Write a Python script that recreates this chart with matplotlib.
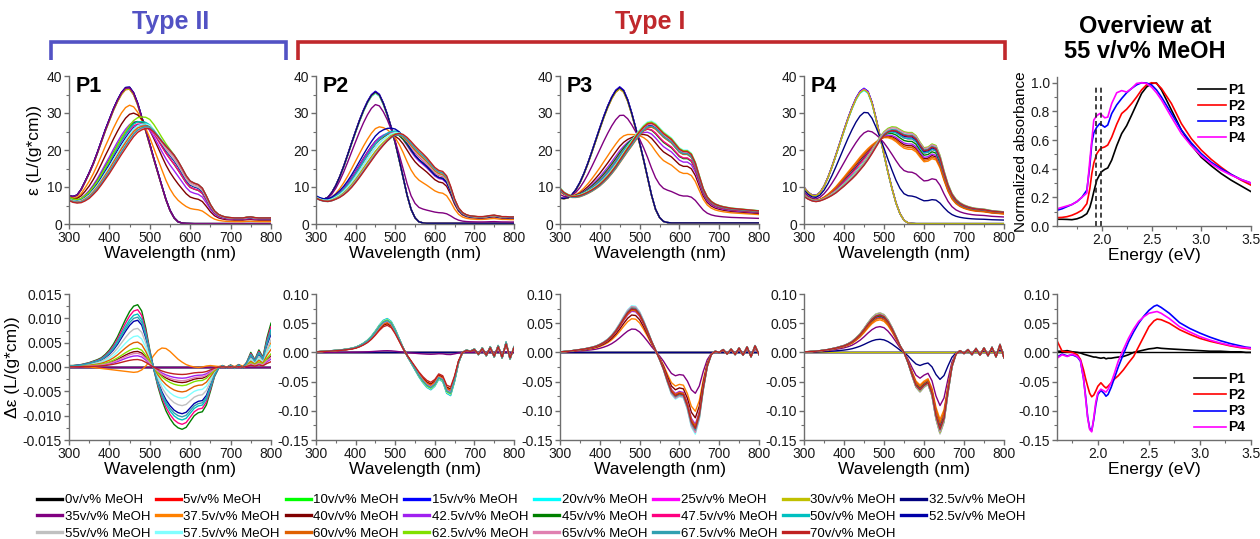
import numpy as np
import matplotlib
matplotlib.use("Agg")
import matplotlib.pyplot as plt
from matplotlib.lines import Line2D
from matplotlib.ticker import MultipleLocator, FormatStrFormatter

plt.rcParams['font.family'] = ['Liberation Sans', 'DejaVu Sans']
plt.rcParams['axes.unicode_minus'] = False

# ---------------- data ----------------
MEOH = ["0", "5", "10", "15", "20", "25", "30", "32.5", "35", "37.5", "40", "42.5",
        "45", "47.5", "50", "52.5", "55", "57.5", "60", "62.5", "65", "67.5", "70"]
COLORS = ["#000000", "#ff0000", "#00ff00", "#0000ff", "#00ffff", "#ff00ff", "#c0c000",
          "#000080", "#800080", "#ff8000", "#800000", "#a020f0", "#008000", "#ff0080",
          "#00c0c0", "#0000a8", "#c0c0c0", "#80ffff", "#e06000", "#80e000", "#e080b0",
          "#30a0b0", "#c02020"]

WL = np.arange(300, 801, 10)

# absorption: unaggregated (MONO) and aggregated (AGG) spectra, eps in L/(g*cm)
P1_MONO = [7.6, 7.4, 7.8, 9.3, 11.5, 13.8, 16.3, 19.2, 22.3, 25.4,
           28.2, 31.0, 33.4, 35.4, 36.7, 36.8, 35.3, 32.5, 28.8, 25.3,
           21.5, 17.6, 13.9, 10.2, 6.6, 3.7, 1.7, 0.6, 0.25, 0.15,
           0.12, 0.1, 0.1, 0.1, 0.1, 0.1, 0.1, 0.1, 0.1, 0.1,
           0.1, 0.1, 0.1, 0.1, 0.1, 0.1, 0.1, 0.1, 0.1, 0.1,
           0.1]
P1_AGG = [6.6, 6.1, 5.9, 6.0, 6.5, 7.2, 8.3, 9.5, 11.0, 12.6,
          14.2, 16.0, 17.8, 19.6, 21.3, 23.0, 24.6, 25.8, 26.5, 26.9,
          26.8, 25.9, 24.6, 23.2, 21.9, 20.7, 19.4, 17.7, 15.7, 13.6,
          12.1, 11.5, 11.1, 10.1, 7.9, 5.5, 3.7, 2.7, 2.2, 1.9,
          1.8, 1.7, 1.7, 1.7, 1.9, 2.0, 1.8, 1.7, 1.7, 1.7,
          1.7]
P1_FRAC = [0, 0, 0, 0, 0, 0, 0, 0, 0, 0.34, 0.58, 0.72, 0.8, 0.82, 0.85, 0.87,
           0.9, 0.92, 0.94, 0.88, 0.96, 0.98, 1.0]
P1_SCALE = [1.0, 0.99, 1.0, 1.005, 0.995, 1.0, 0.99, 1.005, 1.0, 1.0, 1.03, 1.0,
            1.02, 1.0, 1.03, 1.0, 0.99, 1.01, 0.99, 1.08, 0.97, 0.98, 0.96]

P2_MONO = [7.3, 6.9, 6.7, 7.2, 8.5, 10.4, 12.8, 15.6, 18.7, 21.9,
           25.0, 28.0, 30.7, 33.0, 34.8, 35.7, 34.9, 32.6, 29.6, 26.0,
           22.0, 17.4, 12.6, 7.8, 4.0, 1.7, 0.6, 0.3, 0.2, 0.2,
           0.2, 0.2, 0.2, 0.2, 0.2, 0.2, 0.2, 0.2, 0.2, 0.2,
           0.2, 0.2, 0.2, 0.2, 0.2, 0.2, 0.2, 0.2, 0.2, 0.2,
           0.2]
P2_AGG = [7.0, 6.5, 6.2, 6.1, 6.3, 6.7, 7.2, 7.9, 8.8, 9.9,
          11.2, 12.6, 14.1, 15.6, 17.1, 18.6, 20.0, 21.3, 22.5, 23.5,
          24.2, 24.5, 24.2, 23.4, 22.3, 21.1, 20.0, 19.0, 17.9, 16.6,
          15.3, 14.5, 14.2, 13.0, 10.2, 6.8, 4.4, 3.1, 2.5, 2.2,
          2.1, 2.0, 2.0, 2.1, 2.3, 2.4, 2.2, 2.0, 2.0, 1.9,
          1.9]
P2_FRAC = [0, 0, 0, 0, 0, 0, 0, 0, 0.2, 0.58, 0.78, 0.82, 0.85, 0.87, 0.88, 0.8,
           0.9, 0.92, 0.94, 0.96, 0.97, 0.98, 1.0]
P2_SCALE = [1.0, 0.995, 1.0, 1.005, 0.99, 1.0, 0.995, 1.0, 1.0, 1.0, 1.0, 1.03,
            1.02, 1.04, 1.05, 1.08, 1.02, 1.03, 1.0, 1.01, 1.0, 0.99, 1.0]

P3_MONO = [7.0, 6.9, 7.1, 7.9, 9.3, 11.2, 13.6, 16.4, 19.5, 22.7,
           25.9, 29.0, 31.8, 34.2, 36.0, 36.9, 36.0, 33.5, 30.0, 26.0,
           21.9, 17.4, 12.6, 7.8, 4.0, 1.8, 0.7, 0.4, 0.3, 0.3,
           0.3, 0.3, 0.3, 0.3, 0.3, 0.3, 0.3, 0.3, 0.3, 0.3,
           0.3, 0.3, 0.3, 0.3, 0.3, 0.3, 0.3, 0.3, 0.3, 0.3,
           0.3]
P3_AGG = [9.5, 8.4, 7.8, 7.4, 7.4, 7.6, 8.0, 8.5, 9.1, 9.8,
          10.6, 11.6, 12.7, 14.0, 15.4, 17.0, 18.6, 20.2, 21.7, 23.3,
          24.7, 25.9, 26.8, 27.0, 26.4, 25.3, 24.2, 23.4, 22.6, 21.3,
          20.0, 19.4, 19.4, 18.6, 16.3, 12.8, 9.4, 7.2, 6.0, 5.3,
          4.9, 4.6, 4.4, 4.2, 4.1, 4.0, 3.9, 3.8, 3.7, 3.6,
          3.5]
P3_FRAC = [0, 0, 0, 0, 0, 0, 0, 0, 0.38, 0.7, 0.8, 0.86, 0.9, 0.92, 0.95, 0.97,
           0.98, 1.0, 1.0, 1.0, 1.0, 1.0, 1.0]
P3_SCALE = [1.0, 0.99, 1.0, 1.005, 0.995, 1.0, 0.99, 1.0, 1.0, 1.0, 1.0, 1.0,
            1.01, 1.0, 1.02, 1.01, 1.02, 1.03, 0.97, 1.02, 1.0, 0.98, 1.01]

P4_MONO = [9.9, 8.6, 7.8, 7.7, 8.5, 10.2, 12.6, 15.5, 18.7, 22.0,
           25.3, 28.5, 31.4, 33.9, 35.7, 36.5, 35.7, 32.8, 28.5, 23.7,
           18.8, 14.0, 9.6, 5.7, 2.8, 1.0, 0.3, 0.15, 0.1, 0.1,
           0.1, 0.1, 0.1, 0.1, 0.1, 0.1, 0.1, 0.1, 0.1, 0.1,
           0.1, 0.1, 0.1, 0.1, 0.1, 0.1, 0.1, 0.1, 0.1, 0.1,
           0.1]
P4_AGG = [7.5, 6.8, 6.3, 6.1, 6.3, 6.7, 7.2, 7.8, 8.5, 9.4,
          10.3, 11.3, 12.3, 13.4, 14.7, 16.0, 17.5, 19.2, 21.0, 22.8,
          24.2, 25.1, 25.5, 25.4, 24.8, 24.2, 24.0, 24.0, 23.2, 21.5,
          20.0, 20.2, 21.0, 20.6, 18.0, 14.0, 10.5, 8.0, 6.5, 5.6,
          5.0, 4.6, 4.3, 4.1, 4.0, 3.9, 3.7, 3.5, 3.4, 3.3,
          3.2]
P4_FRAC = [0, 0, 0, 0, 0, 0, 0, 0.31, 0.58, 0.84, 0.88, 0.9, 0.92, 0.94, 0.96, 0.97,
           0.98, 0.99, 0.86, 1.0, 1.0, 1.0, 1.0]
P4_SCALE = [1.0, 0.995, 1.0, 1.005, 0.99, 1.0, 0.995, 1.0, 1.0, 1.0, 1.0, 1.0,
            1.01, 1.02, 1.0, 1.01, 1.02, 1.03, 1.0, 1.03, 1.02, 1.0, 0.99]

# CD spectra (delta eps) of the aggregate and amplitude per MeOH fraction
P1_CD_BASE = [0.0003, 0.0003, 0.0004, 0.0005, 0.0007, 0.0009, 0.0012, 0.0015, 0.0019, 0.0026,
              0.0035, 0.0047, 0.0062, 0.0080, 0.0098, 0.0114, 0.0125, 0.0128, 0.0115, 0.0080,
              0.0035, -0.0005, -0.0040, -0.0068, -0.0090, -0.0106, -0.0118, -0.0125, -0.0128, -0.0124,
              -0.0112, -0.0100, -0.0094, -0.0092, -0.0078, -0.0050, -0.0020, -0.0003, 0.0003, -0.0002,
              0.0004, -0.0003, 0.0005, -0.0002, 0.0010, 0.0030, 0.0015, 0.0035, 0.0020, 0.0060,
              0.0090]
P1_CD_ALT = [0.0003, 0.0002, 0.0002, 0.0001, 0.0000, 0.0000, -0.0001, -0.0002, -0.0003, -0.0004,
             -0.0005, -0.0006, -0.0007, -0.0008, -0.0009, -0.0010, -0.0011, -0.0010, -0.0006, 0.0002,
             0.0012, 0.0024, 0.0034, 0.0039, 0.0038, 0.0032, 0.0024, 0.0016, 0.0010, 0.0005,
             0.0002, 0.0000, -0.0001, 0.0000, 0.0002, 0.0003, 0.0002, 0.0001, 0.0003, 0.0000,
             0.0004, 0.0001, 0.0005, 0.0002, 0.0008, 0.0012, 0.0006, 0.0015, 0.0010, 0.0030,
             0.0050]
P1_CD_AMP = [0, 0, 0, 0, 0, 0, 0, 0, 0, 0, 0.25, 0.18, 1.0, 0.92, 0.85, 0.75,
             0.62, 0.5, 0.4, 0.3, 0.22, 0.8, 0.12]
P1_CD_ALT_W = [0, 0, 0, 0, 0, 0, 0, 0, 0, 1, 0, 0, 0, 0, 0, 0, 0, 0, 0, 0, 0, 0, 0]

P2_CD_BASE = [0.0010, 0.0015, 0.0020, 0.0025, 0.0030, 0.0035, 0.0042, 0.0050, 0.0060, 0.0072,
              0.0090, 0.0120, 0.0160, 0.0210, 0.0280, 0.0370, 0.0470, 0.0550, 0.0580, 0.0530,
              0.0400, 0.0240, 0.0080, -0.0060, -0.0180, -0.0300, -0.0420, -0.0520, -0.0600, -0.0640,
              -0.0580, -0.0460, -0.0500, -0.0700, -0.0740, -0.0500, -0.0180, 0.0000, 0.0040, 0.0020,
              0.0060, -0.0040, 0.0080, -0.0060, 0.0100, -0.0080, 0.0120, -0.0100, 0.0180, -0.0120,
              0.0100]
P2_CD_AMP = [0, 0, 0, 0, 0, 0, 0, 0, 0.05, 0.85, 0.85, 0.9, 0.95, 0.93, 1.0, 0.97,
             0.95, 0.98, 0.88, 0.96, 0.92, 0.94, 0.8]

P3_CD_BASE = [0.0010, 0.0015, 0.0020, 0.0030, 0.0040, 0.0050, 0.0060, 0.0075, 0.0090, 0.0110,
              0.0140, 0.0180, 0.0230, 0.0300, 0.0390, 0.0500, 0.0620, 0.0730, 0.0800, 0.0790,
              0.0700, 0.0550, 0.0380, 0.0200, 0.0040, -0.0120, -0.0300, -0.0520, -0.0720, -0.0800,
              -0.0760, -0.0780, -0.0980, -0.1280, -0.1400, -0.1150, -0.0650, -0.0250, -0.0040, 0.0020,
              0.0000, 0.0050, -0.0030, 0.0060, -0.0040, 0.0080, -0.0050, 0.0100, -0.0080, 0.0120,
              -0.0040]
P3_CD_AMP = [0, 0, 0, 0, 0, 0, 0, 0, 0.5, 0.72, 0.8, 0.88, 0.92, 0.95, 0.97, 0.94,
             0.98, 1.0, 0.9, 0.96, 0.98, 0.95, 0.93]

P4_CD_BASE = [0.0010, 0.0013, 0.0017, 0.0022, 0.0030, 0.0040, 0.0050, 0.0065, 0.0080, 0.0100,
              0.0120, 0.0150, 0.0190, 0.0250, 0.0320, 0.0410, 0.0510, 0.0600, 0.0660, 0.0680,
              0.0650, 0.0560, 0.0430, 0.0280, 0.0120, 0.0000, -0.0180, -0.0400, -0.0600, -0.0680,
              -0.0600, -0.0550, -0.0750, -0.1150, -0.1400, -0.1200, -0.0700, -0.0250, -0.0030, 0.0030,
              -0.0020, 0.0050, -0.0040, 0.0070, -0.0050, 0.0080, -0.0060, 0.0090, -0.0080, 0.0140,
              -0.0100]
P4_CD_AMP = [0, 0, 0, 0, 0, 0, 0, 0.33, 0.65, 0.82, 0.88, 0.9, 0.92, 0.95, 0.97, 0.99,
             1.0, 0.96, 0.86, 0.98, 0.97, 0.95, 0.94]

# overview at 55 v/v% MeOH
OV_NAMES = ["P1", "P2", "P3", "P4"]
OV_COLORS = ["#000000", "#ff0000", "#0000ff", "#ff00ff"]
E_ABS = [1.55, 1.60, 1.65, 1.70, 1.75, 1.80, 1.85, 1.88, 1.90, 1.92, 1.95, 1.98,
         2.00, 2.03, 2.06, 2.10, 2.15, 2.20, 2.25, 2.30, 2.35, 2.40, 2.45, 2.50,
         2.55, 2.60, 2.70, 2.80, 2.90, 3.00, 3.10, 3.20, 3.30, 3.40, 3.50]
OV_ABS_P1 = [0.047, 0.047, 0.046, 0.044, 0.050, 0.063, 0.086, 0.130, 0.180, 0.240, 0.320, 0.360,
             0.380, 0.395, 0.405, 0.460, 0.560, 0.645, 0.700, 0.774, 0.850, 0.925, 0.970, 0.995,
             0.998, 0.950, 0.810, 0.670, 0.565, 0.480, 0.420, 0.366, 0.320, 0.280, 0.240]
OV_ABS_P2 = [0.058, 0.060, 0.065, 0.075, 0.090, 0.110, 0.156, 0.260, 0.366, 0.440, 0.505, 0.535,
             0.545, 0.552, 0.565, 0.620, 0.710, 0.785, 0.815, 0.855, 0.900, 0.950, 0.985, 1.000,
             0.995, 0.960, 0.855, 0.715, 0.610, 0.530, 0.465, 0.410, 0.360, 0.320, 0.285]
OV_ABS_P3 = [0.110, 0.120, 0.135, 0.150, 0.170, 0.200, 0.250, 0.420, 0.580, 0.650, 0.690, 0.715,
             0.705, 0.690, 0.705, 0.785, 0.845, 0.890, 0.930, 0.960, 0.985, 1.000, 0.998, 0.985,
             0.950, 0.900, 0.785, 0.670, 0.580, 0.505, 0.445, 0.400, 0.360, 0.325, 0.300]
OV_ABS_P4 = [0.120, 0.130, 0.140, 0.150, 0.170, 0.200, 0.230, 0.460, 0.600, 0.740, 0.770, 0.785,
             0.775, 0.755, 0.760, 0.855, 0.930, 0.945, 0.935, 0.960, 0.995, 1.000, 0.995, 0.970,
             0.930, 0.880, 0.760, 0.645, 0.560, 0.490, 0.435, 0.390, 0.355, 0.325, 0.300]
OV_DASH_E = [1.94, 1.99]
OV_DASH_TOP = 0.97

E_CD = [1.60, 1.65, 1.70, 1.75, 1.80, 1.83, 1.86, 1.88, 1.90, 1.92, 1.94, 1.96, 1.98, 2.00,
        2.03, 2.06, 2.08, 2.10, 2.13, 2.16, 2.20, 2.25, 2.30, 2.35, 2.40, 2.45, 2.50, 2.55,
        2.58, 2.62, 2.70, 2.80, 2.90, 3.00, 3.10, 3.20, 3.30, 3.40, 3.45, 3.50]
OV_CD_P1 = [0.002, 0.002, 0.003, 0.001, 0.000, -0.001, -0.003, -0.004, -0.005, -0.006, -0.007, -0.008,
            -0.008, -0.009, -0.010, -0.009, -0.011, -0.010, -0.010, -0.009, -0.008, -0.007, -0.004, 0.000,
            0.002, 0.004, 0.006, 0.007, 0.008, 0.007, 0.006, 0.005, 0.004, 0.003, 0.002, 0.002, 0.001,
            0.001, 0.000, 0.000]
OV_CD_P2 = [0.020, 0.002, 0.001, 0.000, -0.004, -0.012, -0.030, -0.045, -0.058, -0.070, -0.076, -0.073,
            -0.066, -0.058, -0.052, -0.058, -0.061, -0.058, -0.052, -0.046, -0.040, -0.030, -0.018, -0.007,
            0.010, 0.027, 0.044, 0.054, 0.057, 0.056, 0.050, 0.039, 0.031, 0.024, 0.019, 0.015, 0.011,
            0.008, 0.007, 0.006]
OV_CD_P3 = [-0.008, -0.003, -0.006, -0.004, -0.008, -0.015, -0.045, -0.075, -0.110, -0.130, -0.134, -0.115,
            -0.090, -0.072, -0.065, -0.070, -0.075, -0.072, -0.060, -0.045, -0.025, -0.003, 0.018, 0.035,
            0.050, 0.062, 0.072, 0.079, 0.081, 0.077, 0.067, 0.051, 0.041, 0.033, 0.026, 0.020, 0.015,
            0.011, 0.009, 0.008]
OV_CD_P4 = [-0.010, -0.004, -0.007, -0.003, -0.007, -0.014, -0.045, -0.078, -0.112, -0.132, -0.136, -0.112,
            -0.085, -0.069, -0.063, -0.066, -0.068, -0.063, -0.052, -0.037, -0.015, 0.005, 0.024, 0.040,
            0.053, 0.061, 0.067, 0.069, 0.070, 0.067, 0.058, 0.044, 0.035, 0.027, 0.021, 0.016, 0.012,
            0.009, 0.008, 0.007]

# ---------------- figure ----------------
W, H = 1260, 539
fig = plt.figure(figsize=(W / 100, H / 100), dpi=100)


def rect(x0, x1, ytop, ybot):
    return [x0 / W, 1 - ybot / H, (x1 - x0) / W, (ybot - ytop) / H]


AX_GREY = "#6e6e6e"


def style(ax, xlim, ylim, xmaj, xmin, ymaj, ymin, xfmt, yfmt):
    ax.set_xlim(*xlim)
    ax.set_ylim(*ylim)
    for s in ("top", "right"):
        ax.spines[s].set_visible(False)
    for s in ("left", "bottom"):
        ax.spines[s].set_color(AX_GREY)
        ax.spines[s].set_linewidth(1.0)
    ax.xaxis.set_major_locator(MultipleLocator(xmaj))
    ax.xaxis.set_minor_locator(MultipleLocator(xmin))
    ax.yaxis.set_major_locator(MultipleLocator(ymaj))
    ax.yaxis.set_minor_locator(MultipleLocator(ymin))
    ax.xaxis.set_major_formatter(FormatStrFormatter(xfmt))
    ax.yaxis.set_major_formatter(FormatStrFormatter(yfmt))
    ax.tick_params(which="both", direction="out", color=AX_GREY, labelsize=10,
                   labelcolor="#1a1a1a", pad=1.5)
    ax.tick_params(which="major", length=3.5, width=1.0)
    ax.tick_params(which="minor", length=2.0, width=0.8)


XL = [(69, 271), (316, 514), (560, 759), (804, 1004)]
ABS = [(P1_MONO, P1_AGG, P1_FRAC, P1_SCALE), (P2_MONO, P2_AGG, P2_FRAC, P2_SCALE),
       (P3_MONO, P3_AGG, P3_FRAC, P3_SCALE), (P4_MONO, P4_AGG, P4_FRAC, P4_SCALE)]
CDS = [(P1_CD_BASE, P1_CD_AMP), (P2_CD_BASE, P2_CD_AMP), (P3_CD_BASE, P3_CD_AMP),
       (P4_CD_BASE, P4_CD_AMP)]
PNAMES = ["P1", "P2", "P3", "P4"]

for k in range(4):
    x0, x1 = XL[k]
    # absorption
    ax = fig.add_axes(rect(x0, x1, 76, 224))
    mono, agg, frac, scale = [np.asarray(a, float) for a in ABS[k]]
    for i in range(len(MEOH)):
        y = scale[i] * ((1 - frac[i]) * mono + frac[i] * agg)
        ax.plot(WL, y, color=COLORS[i], lw=1.0)
    style(ax, (300, 800), (0, 40), 100, 50, 10, 5, "%d", "%d")
    ax.set_xlabel("Wavelength (nm)", fontsize=12.5, labelpad=1)
    ax.text(0.035, 1.0, PNAMES[k], transform=ax.transAxes, fontsize=15.5,
            fontweight="bold", va="top", ha="left")
    if k == 0:
        ax.set_ylabel("ε (L/(g*cm))", fontsize=12.5, labelpad=3)
    # CD
    axc = fig.add_axes(rect(x0, x1, 294, 440))
    base, amp = CDS[k]
    base = np.asarray(base, float)
    for i in range(len(MEOH)):
        y = amp[i] * base
        if k == 0:
            y = y + P1_CD_ALT_W[i] * np.asarray(P1_CD_ALT, float)
        axc.plot(WL, y, color=COLORS[i], lw=1.0)
    if k == 0:
        style(axc, (300, 800), (-0.015, 0.015), 100, 50, 0.005, 0.0025, "%d", "%.3f")
        axc.set_ylabel("Δε (L/(g*cm))", fontsize=12.5, labelpad=2)
    else:
        style(axc, (300, 800), (-0.15, 0.10), 100, 50, 0.05, 0.025, "%d", "%.2f")
    axc.set_xlabel("Wavelength (nm)", fontsize=12.5, labelpad=1)

# overview absorbance
axo = fig.add_axes(rect(1057, 1251, 77, 226))
for name, col, yv in zip(OV_NAMES, OV_COLORS, [OV_ABS_P1, OV_ABS_P2, OV_ABS_P3, OV_ABS_P4]):
    axo.plot(E_ABS, yv, color=col, lw=1.2, label=name)
axo.vlines(OV_DASH_E, 0, OV_DASH_TOP, colors="#222222", linestyles=(0, (3, 2)), lw=1.2)
style(axo, (1.55, 3.5), (0, 1.04), 0.5, 0.25, 0.2, 0.1, "%.1f", "%.1f")
axo.set_xlabel("Energy (eV)", fontsize=12.5, labelpad=1)
axo.set_ylabel("Normalized absorbance", fontsize=11, labelpad=2)
axo.legend(loc="upper right", frameon=False, handlelength=2.0, handletextpad=0.2,
           labelspacing=0.15, borderaxespad=0.0, prop={"weight": "bold", "size": 10},
           bbox_to_anchor=(1.0, 1.0))

# overview CD
axoc = fig.add_axes(rect(1057, 1251, 294, 440))
axoc.axhline(0, color="#000000", lw=1.0)
for name, col, yv in zip(OV_NAMES, OV_COLORS, [OV_CD_P1, OV_CD_P2, OV_CD_P3, OV_CD_P4]):
    axoc.plot(E_CD, yv, color=col, lw=1.2, label=name)
style(axoc, (1.6, 3.5), (-0.15, 0.10), 0.5, 0.25, 0.05, 0.025, "%.1f", "%.2f")
axoc.set_xlabel("Energy (eV)", fontsize=12.5, labelpad=1)
axoc.legend(loc="lower right", frameon=False, handlelength=2.3, handletextpad=0.2,
            labelspacing=0.15, borderaxespad=0.0, prop={"weight": "bold", "size": 10},
            bbox_to_anchor=(1.0, 0.0))

# bottom legend (row-major order like reference)
order = []
for c in range(8):
    for r in range(3):
        j = r * 8 + c
        if j < len(MEOH):
            order.append(j)
handles = [Line2D([], [], color=COLORS[j], lw=2.4) for j in order]
labels = [MEOH[j] + "v/v% MeOH" for j in order]
fig.legend(handles, labels, ncol=8, loc="upper left", bbox_to_anchor=(37 / W, 1 - 494 / H),
           frameon=False, fontsize=9.5, handlelength=1.9, handletextpad=0.2,
           columnspacing=0.42, labelspacing=0.34, borderpad=0.0, borderaxespad=0.0)


# headers and brackets
def px(x, y):
    return x / W, 1 - y / H


BLUE = "#5252c4"
RED = "#c0282c"
for (xa, xb), col in [((51, 286), BLUE), ((298, 1005), RED)]:
    xs = [xa, xa, xb, xb]
    ys = [60, 42, 42, 60]
    fig.add_artist(Line2D([x / W for x in xs], [1 - y / H for y in ys], color=col, lw=2.6,
                          solid_joinstyle="miter", solid_capstyle="butt",
                          transform=fig.transFigure))
fig.text(*px(171, 22), "Type II", color=BLUE, fontsize=18, fontweight="bold",
         ha="center", va="center")
fig.text(*px(650, 22), "Type I", color=RED, fontsize=18, fontweight="bold",
         ha="center", va="center")
fig.text(*px(1145, 39), "Overview at\n55 v/v% MeOH", color="black", fontsize=17,
         fontweight="bold", ha="center", va="center", linespacing=1.15)

fig.savefig("out.png", dpi=100)
